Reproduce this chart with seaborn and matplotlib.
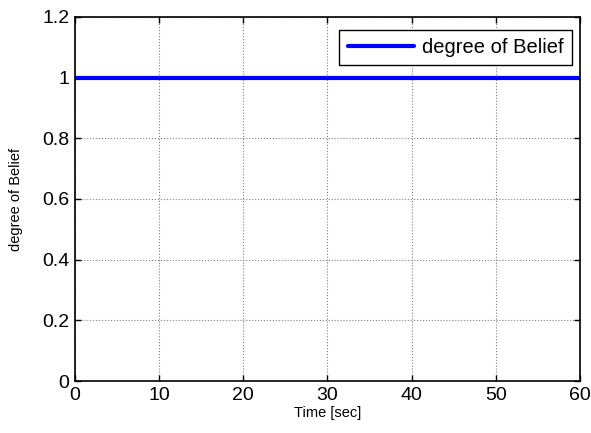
import numpy as np
import pandas as pd
import matplotlib
matplotlib.use("Agg")
import matplotlib.pyplot as plt
import seaborn as sns

sns.set_style("ticks")
plt.rcParams['font.family'] = ['Liberation Sans', 'DejaVu Sans']

time_sec = [0, 10, 20, 30, 40, 50, 60]
belief = [1, 1, 1, 1, 1, 1, 1]
df = pd.DataFrame({'Time [sec]': time_sec, 'degree of Belief': belief})

fig = plt.figure(figsize=(5.91, 4.33), dpi=100)
ax = fig.add_axes([0.127, 0.12, 0.854, 0.841])

sns.lineplot(data=df, x='Time [sec]', y='degree of Belief', ax=ax,
             color='#0000ff', linewidth=3, label='degree of Belief')

ax.set_xlim(0, 60)
ax.set_ylim(0, 1.2)
ax.set_xticks(np.arange(0, 61, 10))
ax.set_yticks([0, 0.2, 0.4, 0.6, 0.8, 1, 1.2])
ax.set_yticklabels(['0', '0.2', '0.4', '0.6', '0.8', '1', '1.2'])
ax.grid(True, color='#808080', linestyle=':', linewidth=0.8)
ax.tick_params(direction='in', labelsize=14, length=4, width=1,
               top=True, right=True, color='black', labelcolor='black', pad=4)
for s in ax.spines.values():
    s.set_linewidth(1.2)
    s.set_color('black')
ax.set_xlabel('Time [sec]', fontsize=10.5, labelpad=2, color='black')
ax.set_ylabel('degree of Belief', fontsize=10.5, labelpad=14, color='black')

leg = ax.legend(loc='upper right', fontsize=14.5, frameon=True, fancybox=False,
                edgecolor='black', framealpha=1, handlelength=3.3,
                borderpad=0.4, borderaxespad=0, handletextpad=0.4,
                bbox_to_anchor=(0.984, 0.964))
leg.get_frame().set_linewidth(1)
for t in leg.get_texts():
    t.set_color('black')

fig.savefig('out.png', dpi=100)
